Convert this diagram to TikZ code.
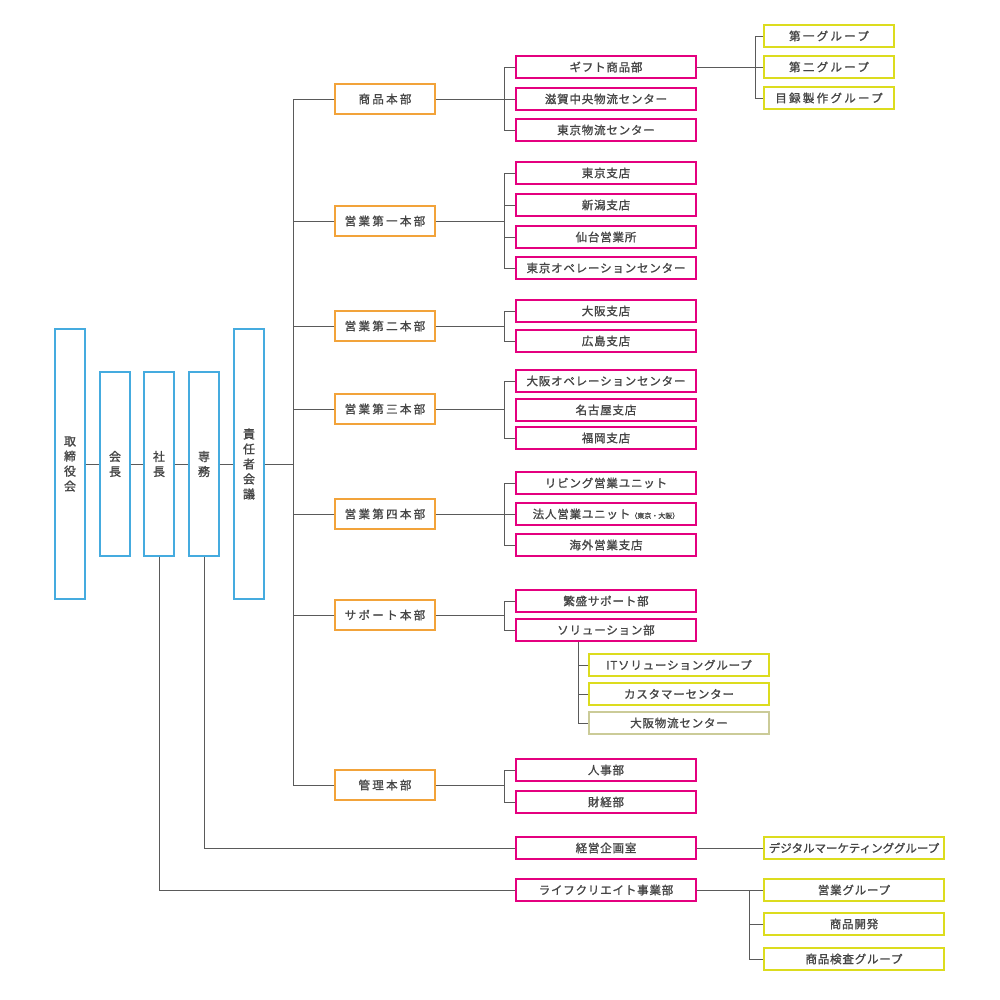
\documentclass[tikz,border=0pt]{standalone}
\usepackage{fontspec}
\newfontfamily\jpn[LetterSpace=7,FakeBold=1.2]{Noto Sans CJK JP}
\newfontfamily\jpw[LetterSpace=20,FakeBold=1.2]{Noto Sans CJK JP}
\newfontfamily\jpt[LetterSpace=0,FakeBold=1.2]{Noto Sans CJK JP}
\definecolor{cblue}{HTML}{45ABDF}
\definecolor{corange}{HTML}{F2A33A}
\definecolor{cpink}{HTML}{E4007F}
\definecolor{cyellow}{HTML}{DCDC1E}
\definecolor{cline}{HTML}{5A5A5A}
\definecolor{ctext}{HTML}{454545}
\tikzset{
  base/.style={draw, line width=1.2pt, inner sep=0pt, text=ctext, font=\jpn\fontsize{11.5}{15}\selectfont},
  blbox/.style={base, draw=cblue, minimum width=30, align=center, font=\jpn\fontsize{12}{15}\selectfont},
  orbox/.style={base, draw=corange, minimum width=100, minimum height=30, font=\jpw\fontsize{11.5}{15}\selectfont},
  pkbox/.style={base, draw=cpink, minimum width=180, minimum height=22},
  ylbox/.style={base, draw=cyellow, minimum height=22},
  ln/.style={draw=cline, line width=0.9pt}
}
\begin{document}
\begin{tikzpicture}[x=1pt,y=-1pt]
\useasboundingbox[fill=white] (0,0) rectangle (1000,1000);
% left column
\node[blbox, minimum height=270] (c1) at (70,464) {取\\締\\役\\会};
\node[blbox, minimum height=184] (c2) at (115,464) {会\\長};
\node[blbox, minimum height=184] (c3) at (159,464) {社\\長};
\node[blbox, minimum height=184] (c4) at (204,464) {専\\務};
\node[blbox, minimum height=270] (c5) at (249,464) {責\\任\\者\\会\\議};
\draw[ln] (c1.east) -- (c2.west) (c2.east) -- (c3.west) (c3.east) -- (c4.west) (c4.east) -- (c5.west);
\coordinate (trk) at (293,0);
\coordinate (brp) at (504,0);
% orange
\node[orbox] (o1) at (385,99) {商品本部};
\node[orbox] (o2) at (385,221) {営業第一本部};
\node[orbox] (o3) at (385,326) {営業第二本部};
\node[orbox] (o4) at (385,409) {営業第三本部};
\node[orbox] (o5) at (385,514) {営業第四本部};
\node[orbox] (o6) at (385,615) {サポート本部};
\node[orbox] (o7) at (385,785) {管理本部};
\draw[ln] (c5.east) -- (c5.east -| trk);
\draw[ln] (o1.west) -- (o1.west -| trk) |- (o7.west);
\foreach \o in {o2,o3,o4,o5,o6} \draw[ln] (\o.west) -- (\o.west -| trk);
% pink
\node[pkbox] (p1) at (606,67) {ギフト商品部};
\node[pkbox] (p2) at (606,99) {滋賀中央物流センター};
\node[pkbox] (p3) at (606,130) {東京物流センター};
\node[pkbox] (p4) at (606,173) {東京支店};
\node[pkbox] (p5) at (606,205) {新潟支店};
\node[pkbox] (p6) at (606,237) {仙台営業所};
\node[pkbox] (p7) at (606,268) {東京オペレーションセンター};
\node[pkbox] (p8) at (606,311) {大阪支店};
\node[pkbox] (p9) at (606,341) {広島支店};
\node[pkbox] (p10) at (606,381) {大阪オペレーションセンター};
\node[pkbox] (p11) at (606,410) {名古屋支店};
\node[pkbox] (p12) at (606,438) {福岡支店};
\node[pkbox] (p13) at (606,483) {リビング営業ユニット};
\node[pkbox] (p14) at (606,514) {法人営業ユニット{\jpt\fontsize{7}{8}\selectfont（東京・大阪）}};
\node[pkbox] (p15) at (606,545) {海外営業支店};
\node[pkbox] (p16) at (606,601) {繁盛サポート部};
\node[pkbox] (p17) at (606,630) {ソリューション部};
\node[pkbox] (p18) at (606,770) {人事部};
\node[pkbox] (p19) at (606,802) {財経部};
\node[pkbox] (p20) at (606,848) {経営企画室};
\node[pkbox] (p21) at (606,890) {ライフクリエイト事業部};
% forks from orange to pink
\foreach \o/\a/\b in {o1/p1/p3, o2/p4/p7, o3/p8/p9, o4/p10/p12, o5/p13/p15, o6/p16/p17, o7/p18/p19} {
  \draw[ln] (\o.east) -- (\o.east -| brp);
  \draw[ln] (\a.west) -- (\a.west -| brp) |- (\b.west);
}
\foreach \p in {p2,p5,p6,p14} \draw[ln] (\p.west) -- (\p.west -| brp);
% yellow top
\node[ylbox, minimum width=130, font=\jpw\fontsize{11.5}{15}\selectfont] (y1) at (829,36) {第一グループ};
\node[ylbox, minimum width=130, font=\jpw\fontsize{11.5}{15}\selectfont] (y2) at (829,67) {第二グループ};
\node[ylbox, minimum width=130, font=\jpw\fontsize{11.5}{15}\selectfont] (y3) at (829,98) {目録製作グループ};
\coordinate (bry) at (755,0);
\draw[ln] (p1.east) -- (y2.west);
\draw[ln] (y1.west) -- (y1.west -| bry) |- (y3.west);
% solution subgroups
\node[ylbox, minimum width=180] (s1) at (679,665) {ITソリューショングループ};
\node[ylbox, minimum width=180] (s2) at (679,694) {カスタマーセンター};
\node[ylbox, minimum width=180, draw=cyellow!45!gray!60] (s3) at (679,723) {大阪物流センター};
\coordinate (brs) at (578,0);
\draw[ln] (p17.south -| brs) |- (s3.west);
\foreach \s in {s1,s2} \draw[ln] (\s.west) -- (\s.west -| brs);
% keiei / life
\node[ylbox, minimum width=180, font=\jpt\fontsize{11.5}{15}\selectfont] (d1) at (854,848) {デジタルマーケティンググループ};
\draw[ln] (c4.south) |- (p20.west);
\draw[ln] (p20.east) -- (d1.west);
\draw[ln] (c3.south) |- (p21.west);
\node[ylbox, minimum width=180] (l1) at (854,890) {営業グループ};
\node[ylbox, minimum width=180] (l2) at (854,924) {商品開発};
\node[ylbox, minimum width=180] (l3) at (854,959) {商品検査グループ};
\coordinate (brl) at (749,0);
\draw[ln] (p21.east) -- (l1.west);
\draw[ln] (p21.east -| brl) |- (l3.west);
\draw[ln] (l2.west) -- (l2.west -| brl);
\end{tikzpicture}
\end{document}
